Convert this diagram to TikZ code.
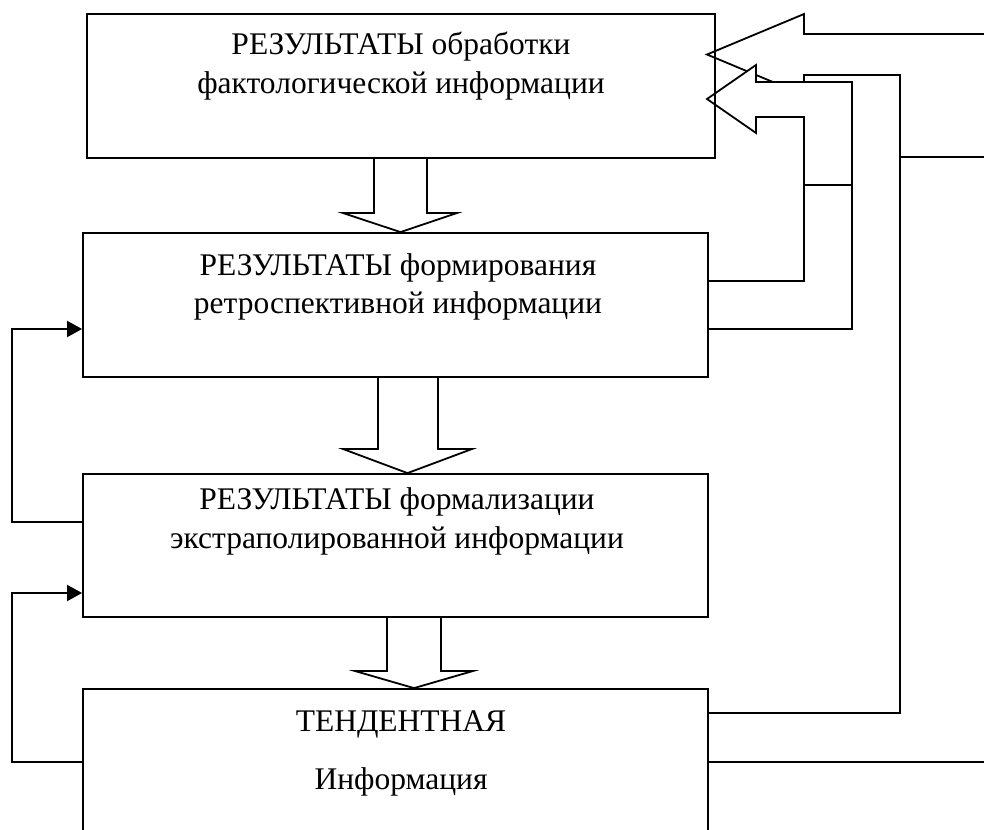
\documentclass[tikz,border=0pt]{standalone}
\usepackage{fontspec}
\setmainfont{Liberation Serif}
\usetikzlibrary{arrows.meta,calc}
\begin{document}
\begin{tikzpicture}[x=1pt,y=-1pt,
  frame/.style={draw=black,line width=1.8pt,inner sep=0pt},
  wire/.style={draw=black,line width=1.8pt,line join=miter},
  blockarrow/.style={draw=black,line width=1.8pt,line join=miter},
  boxtext/.style={font=\fontsize{31.5}{39}\selectfont,inner sep=0pt,anchor=base},
  feed/.style={wire,-{Triangle[length=15pt,width=16pt]}}]

\useasboundingbox (0,0) rectangle (984,829);
\clip (0,0) rectangle (984,829);

% result blocks
\node[frame,minimum width=625,minimum height=144] (b2) at (395.5,305) {};
\node[frame,minimum width=625,minimum height=143] (b3) at (395.5,545.5) {};
\node[frame,minimum width=625,minimum height=211] (b4) at (395.5,794.5) {};

% upper return arrow: from the trend block back into the first block
\draw[blockarrow] (990,34) -- (804,34) -- (804,14) -- (707,54.5) -- (804,95)
  -- (804,75) -- (900,75) -- (900,713) -- (b4.east |- 0,713);
\draw[wire] (900,157) -- (990,157);
\draw[wire] (b4.east |- 0,762) -- (990,762);

% lower return arrow: from the retrospective block back into the first block
\filldraw[blockarrow,fill=white] (707,99) -- (756,65) -- (756,82) -- (852,82)
  -- (852,185) -- (804,185) -- (804,117) -- (756,117) -- (756,133) -- cycle;
\draw[wire] (b2.east |- 0,281) -- (804,281) -- (804,185);
\draw[wire] (b2.east |- 0,329) -- (852,329) -- (852,185);

% first block, drawn over the arrow heads
\node[frame,minimum width=628,minimum height=144] (b1) at (401,86) {};

% texts
\node[boxtext] (t1a) at (401,55) {РЕЗУЛЬТАТЫ обработки};
\node[boxtext] (t1b) at (401,94) {фактологической информации};
\node[boxtext] (t2a) at (398,275) {РЕЗУЛЬТАТЫ формирования};
\node[boxtext] (t2b) at (398,313) {ретроспективной информации};
\node[boxtext] (t3a) at (397,509) {РЕЗУЛЬТАТЫ формализации};
\node[boxtext] (t3b) at (397,548) {экстраполированной информации};
\node[boxtext] (t4a) at (401,731) {ТЕНДЕНТНАЯ};
\node[boxtext] (t4b) at (401,789) {Информация};

% downward block arrows between the blocks
\draw[blockarrow] (374,0 |- b1.south) -- (374,213) -- (343,213) -- (400.5,0 |- b2.north)
  -- (457,213) -- (427,213) -- (427,0 |- b1.south);
\draw[blockarrow] (378,0 |- b2.south) -- (378,449) -- (343,449) -- (407.5,0 |- b3.north)
  -- (472,449) -- (438,449) -- (438,0 |- b2.south);
\draw[blockarrow] (387,0 |- b3.south) -- (387,671) -- (355,671) -- (414,0 |- b4.north)
  -- (473,671) -- (441,671) -- (441,0 |- b3.south);

% feedback connectors on the left
\draw[feed] (b3.west |- 0,522) -- (12,522) -- (12,329) -- (b2.west |- 0,329);
\draw[feed] (b4.west |- 0,762) -- (12,762) -- (12,593) -- (b3.west |- 0,593);
\end{tikzpicture}
\end{document}
